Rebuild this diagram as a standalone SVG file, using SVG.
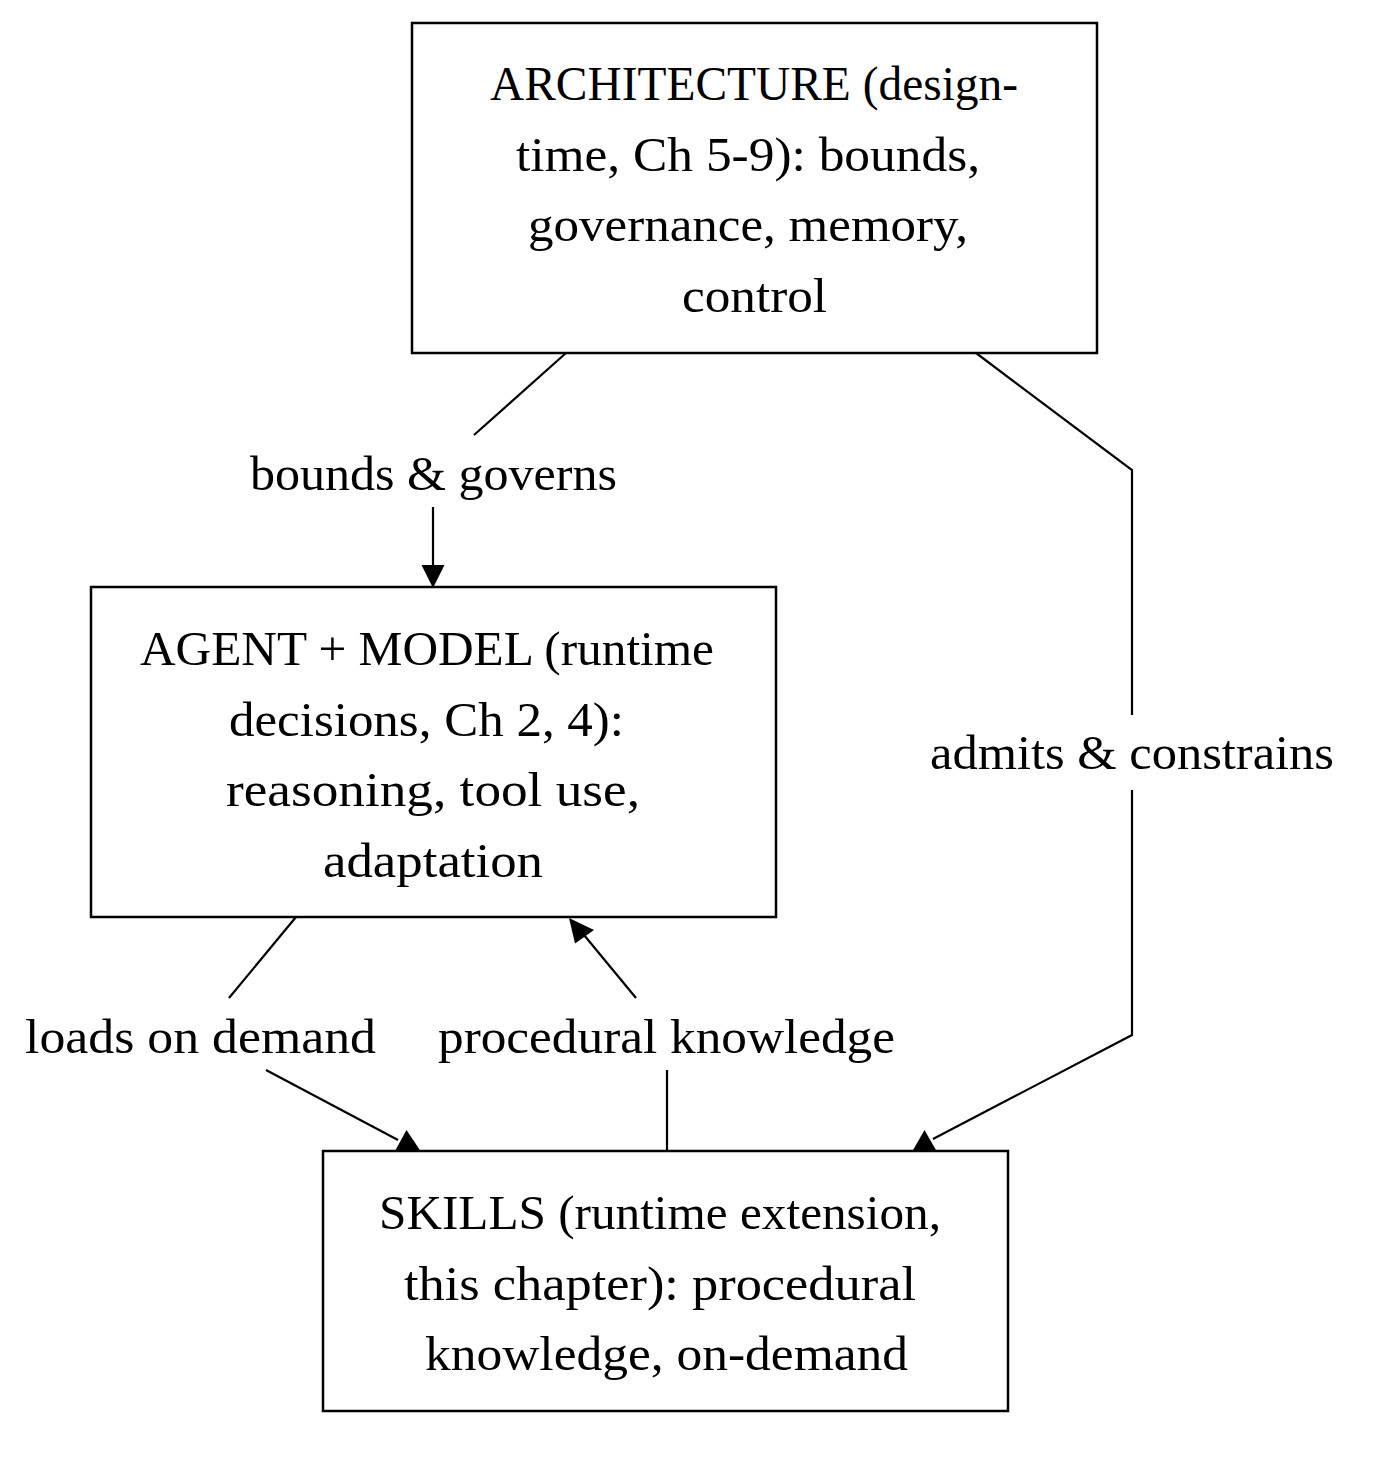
<svg xmlns="http://www.w3.org/2000/svg" width="1383" height="1458" viewBox="0 0 1383 1458">
<style>
.box{fill:#fff;stroke:#000;stroke-width:2.5}
.edge{fill:none;stroke:#000;stroke-width:2.2}
.head{fill:#000;stroke:none}
text{font-family:"Liberation Serif","Times New Roman",serif;font-size:48px;fill:#000}
</style>
<rect width="1383" height="1458" fill="#fff"/>
<g id="connectors">
  <g id="e-bounds">
    <path class="edge" d="M566,353 L474,435"/>
    <path class="edge" d="M433,507 L433,567"/>
    <polygon class="head" points="421.5,565 444.5,565 433,588"/>
    <text x="250" y="490" textLength="367" lengthAdjust="spacingAndGlyphs">bounds &amp; governs</text>
  </g>
  <g id="e-admits">
    <path class="edge" d="M976,353 L1132,470 L1132,715"/>
    <path class="edge" d="M1132,790 L1132,1035 L933,1139"/>
    <polygon class="head" points="912.5,1151 924.5,1130 936.5,1151"/>
    <text x="930" y="769" textLength="404" lengthAdjust="spacingAndGlyphs">admits &amp; constrains</text>
  </g>
  <g id="e-loads">
    <path class="edge" d="M296,917 L229,998"/>
    <path class="edge" d="M266,1070 L398,1140"/>
    <polygon class="head" points="395,1151 406.5,1130 420.5,1151"/>
    <text x="25" y="1053" textLength="351" lengthAdjust="spacingAndGlyphs">loads on demand</text>
  </g>
  <g id="e-procedural">
    <path class="edge" d="M667,1151 L667,1070"/>
    <path class="edge" d="M636,998 L584,935"/>
    <polygon class="head" points="569,918 575,943.5 594,930"/>
    <text x="438" y="1053" textLength="457" lengthAdjust="spacingAndGlyphs">procedural knowledge</text>
  </g>
</g>
<g id="architecture">
  <rect class="box" x="412" y="23" width="685" height="330"/>
  <text x="490" y="100" textLength="528" lengthAdjust="spacingAndGlyphs">ARCHITECTURE (design-</text>
  <text x="516" y="171" textLength="464" lengthAdjust="spacingAndGlyphs">time, Ch 5-9): bounds,</text>
  <text x="528" y="241" textLength="440" lengthAdjust="spacingAndGlyphs">governance, memory,</text>
  <text x="682" y="312" textLength="145" lengthAdjust="spacingAndGlyphs">control</text>
</g>
<g id="agent">
  <rect class="box" x="91" y="587" width="685" height="330"/>
  <text x="140" y="665" textLength="574" lengthAdjust="spacingAndGlyphs">AGENT + MODEL (runtime</text>
  <text x="229" y="736" textLength="395" lengthAdjust="spacingAndGlyphs">decisions, Ch 2, 4):</text>
  <text x="226" y="806" textLength="414" lengthAdjust="spacingAndGlyphs">reasoning, tool use,</text>
  <text x="323" y="877" textLength="220" lengthAdjust="spacingAndGlyphs">adaptation</text>
</g>
<g id="skills">
  <rect class="box" x="323" y="1151" width="685" height="260"/>
  <text x="379" y="1229" textLength="562" lengthAdjust="spacingAndGlyphs">SKILLS (runtime extension,</text>
  <text x="404" y="1300" textLength="512" lengthAdjust="spacingAndGlyphs">this chapter): procedural</text>
  <text x="425" y="1370" textLength="483" lengthAdjust="spacingAndGlyphs">knowledge, on-demand</text>
</g>
</svg>
